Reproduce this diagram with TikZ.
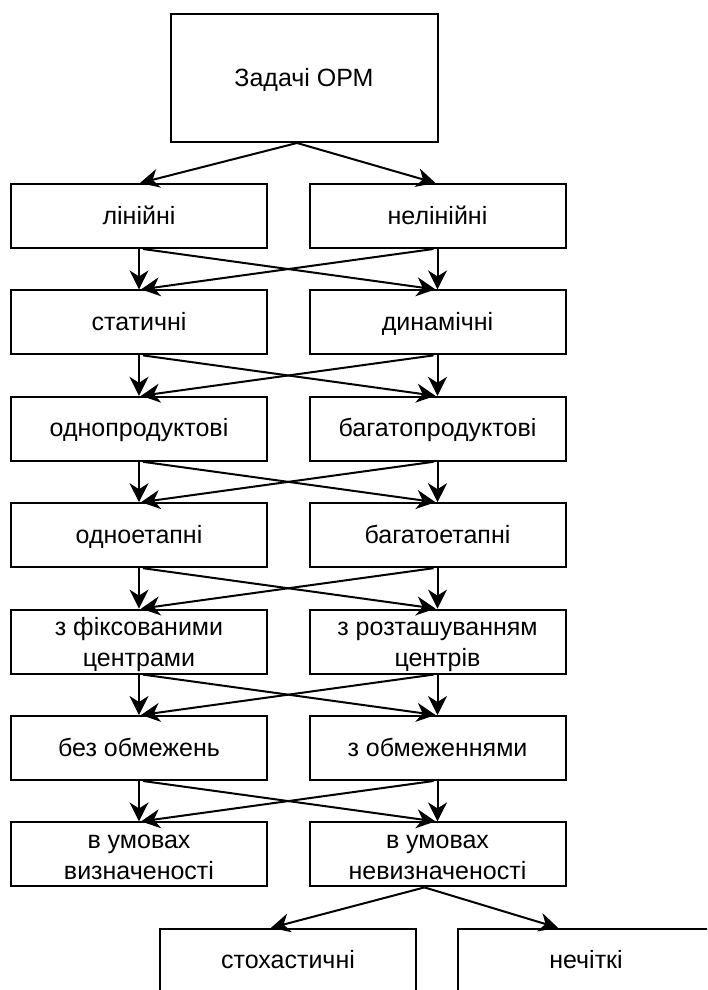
\documentclass[tikz,border=0pt]{standalone}
\usepackage{fontspec}
\setmainfont{Liberation Sans}
\usetikzlibrary{arrows.meta}
\newcommand\boxstrutA{\rule[-8pt]{0pt}{32pt}}
\newcommand\boxstrutB{\rule[-4.5pt]{0pt}{9pt}}
\newcommand\twolines[2]{\boxstrutA #1\\#2\boxstrutB}
\begin{document}
\begin{tikzpicture}[x=1pt,y=-1pt,
  box/.style={draw, line width=2pt, minimum width=256pt, minimum height=64pt,
    inner sep=0pt, align=center, font=\fontsize{25}{30.5}\selectfont},
  onebox/.style={box, execute at begin node=\boxstrutA},
  conn/.style={line width=2pt, -{Stealth[length=19pt,width=19pt,inset=6pt]}}]
\useasboundingbox (0,0) rectangle (707,990);
\clip (0,0) rectangle (707,990);
\fill[white] (0,0) rectangle (707,990);

\node[onebox, minimum width=267pt, minimum height=128pt] (top) at (304,78) {Задачі ОРМ};

\node[onebox] (L1) at (139,216.0) {лінійні};
\node[onebox] (R1) at (437.5,216.0) {нелінійні};
\node[onebox] (L2) at (139,322.4) {статичні};
\node[onebox] (R2) at (437.5,322.4) {динамічні};
\node[onebox] (L3) at (139,428.8) {однопродуктові};
\node[onebox] (R3) at (437.5,428.8) {багатопродуктові};
\node[onebox] (L4) at (139,535.2) {одноетапні};
\node[onebox] (R4) at (437.5,535.2) {багатоетапні};
\node[box] (L5) at (139,641.6) {\twolines{з фіксованими}{центрами}};
\node[box] (R5) at (437.5,641.6) {\twolines{з розташуванням}{центрів}};
\node[onebox] (L6) at (139,748.0) {без обмежень};
\node[onebox] (R6) at (437.5,748.0) {з обмеженнями};
\node[box] (L7) at (139,854.4) {\twolines{в умовах}{визначеності}};
\node[box] (R7) at (437.5,854.4) {\twolines{в умовах}{невизначеності}};

\node[onebox] (BL) at (288,960.8) {стохастичні};
\node[onebox] (BR) at (586,960.8) {нечіткі};

\draw[conn] ([xshift=-7pt]top.south) -- ([xshift=1pt]L1.north);
\draw[conn] ([xshift=-7pt]top.south) -- ([xshift=-2pt]R1.north);

\foreach \i in {1,...,6}{
  \pgfmathtruncatemacro{\j}{\i+1}
  \draw[conn] (L\i.south) -- (L\j.north);
  \draw[conn] (R\i.south) -- (R\j.north);
  \draw[conn] ([xshift=4pt]L\i.south) -- ([xshift=-2pt]R\j.north);
  \draw[conn] ([xshift=-4pt]R\i.south) -- ([xshift=2pt]L\j.north);
}

\draw[conn] ([xshift=-13pt]R7.south) -- ([xshift=-17pt]BL.north);
\draw[conn] ([xshift=-13pt]R7.south) -- ([xshift=-28pt]BR.north);
\end{tikzpicture}
\end{document}
